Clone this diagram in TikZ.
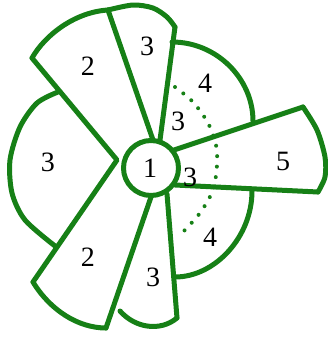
\documentclass[tikz,border=0pt]{standalone}
\usepackage{fontspec}
\setmainfont{Liberation Serif}
\definecolor{petal}{RGB}{22,128,22}
\begin{document}
\begin{tikzpicture}[x=1pt,y=-1pt,
  petal/.style={draw=petal, line width=5pt, line join=round, line cap=round},
  dotarc/.style={draw=petal, line width=4pt, line cap=round, dash pattern=on 0pt off 10.5pt},
  lbl/.style={font=\fontsize{28}{28}\selectfont, text=black, inner sep=0pt}]
\useasboundingbox (0,0) rectangle (328,338);
% corner points
\coordinate (p1) at (32,58);
\coordinate (p2) at (108,10);
\coordinate (p3) at (175,27);
\coordinate (p4) at (172,42);
\coordinate (p5) at (253,121);
\coordinate (p6) at (303,107);
\coordinate (p7) at (318,192);
\coordinate (p8) at (252,191);
\coordinate (p9) at (175,277);
\coordinate (p10) at (177,318);
\coordinate (p11) at (120,311);
\coordinate (p12) at (106,328);
\coordinate (p13) at (33,282);
\coordinate (p14) at (55,246);
\coordinate (p15) at (58,92);
\coordinate (apex) at (117,160);
% inner ends
\coordinate (i3) at (153,140);
\coordinate (i4) at (160,140);
\coordinate (i5) at (174,150);
\coordinate (i6) at (175,185);
\coordinate (i7) at (167,194);
\coordinate (i8) at (151,197);
% straight edges
\draw[petal] (p1) -- (apex) -- (p13);
\draw[petal] (p2) -- (i3);
\draw[petal] (p3) -- (i4);
\draw[petal] (i5) -- (p6);
\draw[petal] (i6) -- (p7);
\draw[petal] (i7) -- (p10);
\draw[petal] (i8) -- (p12);
% arcs
\draw[petal] (p1) .. controls (45,35) and (75,12) .. (p2);
\draw[petal] plot[smooth] coordinates {(p2) (133,5) (153,8) (167,17) (p3)};
\draw[petal] (p4) .. controls (217,42) and (253,79) .. (p5);
\draw[petal] plot[smooth] coordinates {(p6) (317,130) (325,157) (325,177) (p7)};
\draw[petal] (p8) .. controls (252,237) and (215,277) .. (p9);
\draw[petal] (p10) .. controls (160,332) and (135,328) .. (p11);
\draw[petal] (p13) .. controls (50,310) and (78,328) .. (p12);
\draw[petal] plot[smooth] coordinates {(p15) (37,103) (20,127) (10,160) (12,193) (25,220) (p14)};
% dotted arc
\draw[dotarc] plot[smooth] coordinates {(175,87) (193,102) (208,123) (216,145) (217,165) (213,190) (200,213) (183,232)};
% centre
\node[circle, draw=petal, line width=5pt, fill=white, minimum size=55pt, inner sep=0pt] (c) at (151,168) {};
% labels
\node[lbl] (l1) at (150,168) {1};
\node[lbl] (l2a) at (88,66) {2};
\node[lbl] (l3a) at (147,46) {3};
\node[lbl] (l4a) at (205,83) {4};
\node[lbl] (l3b) at (178,121) {3};
\node[lbl] (l3c) at (48,162) {3};
\node[lbl] (l5) at (283,161) {5};
\node[lbl] (l3d) at (190,177) {3};
\node[lbl] (l4b) at (210,237) {4};
\node[lbl] (l2b) at (88,257) {2};
\node[lbl] (l3e) at (153,277) {3};
\end{tikzpicture}
\end{document}
